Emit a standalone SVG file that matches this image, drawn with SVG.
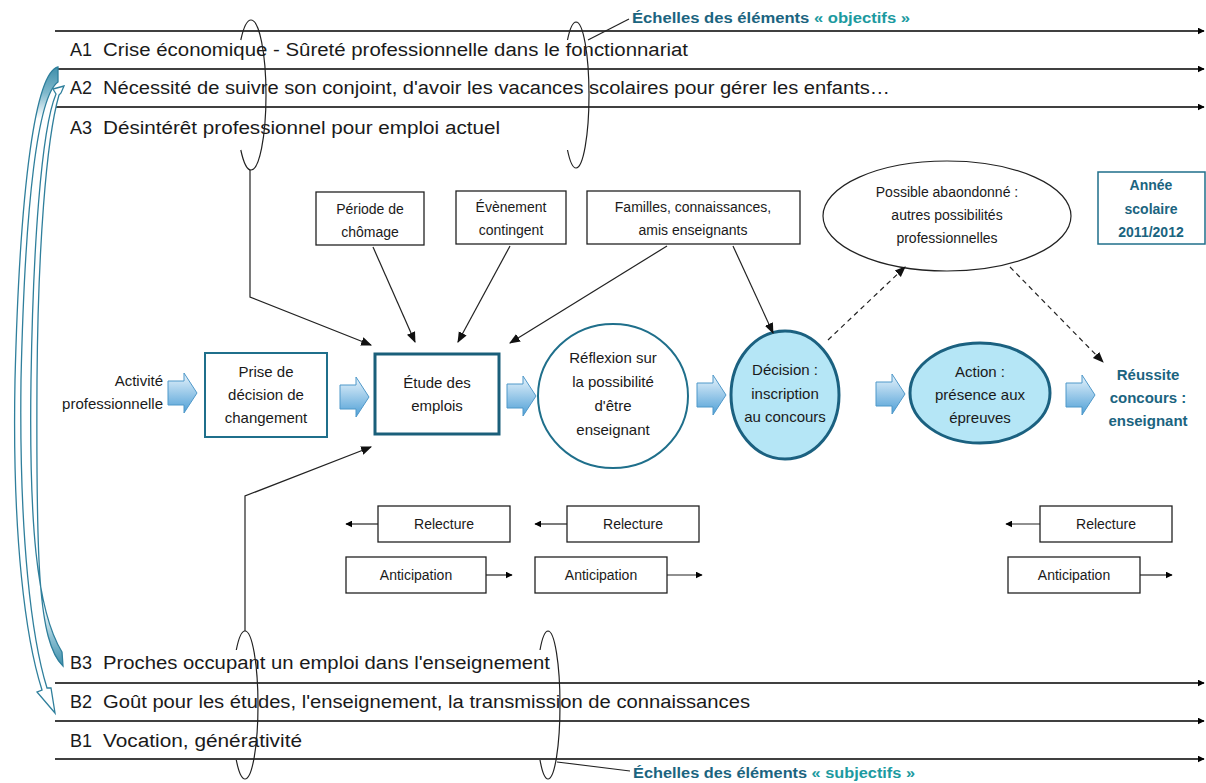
<svg xmlns="http://www.w3.org/2000/svg" width="1206" height="783" viewBox="0 0 1206 783">
<defs>
<style>
text{font-family:"Liberation Sans",Arial,sans-serif;fill:#1a1a1a}
.lv{font-size:18px}
.n{font-size:15px;text-anchor:middle}
.s{font-size:14px;text-anchor:middle}
.tb{font-weight:bold;fill:#1b6480}
.tl{font-weight:bold;fill:#1c9aa0}
.ax{stroke:#000;stroke-width:1.3;fill:none}
.ln{stroke:#222;stroke-width:1.2;fill:none}
.bx{fill:#fff;stroke:#222;stroke-width:1.3}
.tbx{fill:#fff;stroke:#1f6f8b;stroke-width:2}
.cy{fill:#b5e6f6;stroke:#1b6180;stroke-width:3}
.ba{fill:url(#bg);stroke:#4f98c9;stroke-width:1}
.dash{stroke:#222;stroke-width:1.2;fill:none;stroke-dasharray:5 4}
</style>
<linearGradient id="bg" x1="0" y1="0" x2="0" y2="1">
<stop offset="0" stop-color="#e8f4fc"/><stop offset="1" stop-color="#4e9fd6"/>
</linearGradient>
<linearGradient id="c1" x1="0" y1="0" x2="0" y2="1">
<stop offset="0" stop-color="#3f8fab"/><stop offset="0.04" stop-color="#7fb8cc"/><stop offset="0.08" stop-color="#ffffff"/><stop offset="1" stop-color="#ffffff"/>
</linearGradient>
<linearGradient id="c2" x1="0" y1="0" x2="0" y2="1">
<stop offset="0" stop-color="#ffffff"/><stop offset="0.9" stop-color="#ffffff"/><stop offset="0.95" stop-color="#8fc2d4"/><stop offset="1" stop-color="#3f8fab"/>
</linearGradient>
<marker id="ah" viewBox="0 0 10 10" refX="9" refY="5" markerWidth="7" markerHeight="7" orient="auto" markerUnits="userSpaceOnUse">
<path d="M0,0 L10,5 L0,10 Z" fill="#000"/>
</marker>
<marker id="am" viewBox="0 0 10 10" refX="9" refY="5" markerWidth="11" markerHeight="11" orient="auto" markerUnits="userSpaceOnUse">
<path d="M0,1 L10,5 L0,9 Z" fill="#111"/>
</marker>
<path id="blk" d="M0,-12 H16 V-20 L29,0 L16,20 V12 H0 Z"/>
</defs>

<g id="scales">
<line class="ax" x1="55" y1="31" x2="1204" y2="31" marker-end="url(#ah)"/>
<line class="ax" x1="55" y1="69" x2="1204" y2="69" marker-end="url(#ah)"/>
<line class="ax" x1="55" y1="107" x2="1204" y2="107" marker-end="url(#ah)"/>
<line class="ax" x1="55" y1="683" x2="1204" y2="683" marker-end="url(#ah)"/>
<line class="ax" x1="55" y1="721" x2="1204" y2="721" marker-end="url(#ah)"/>
<line class="ax" x1="55" y1="759" x2="1204" y2="759" marker-end="url(#ah)"/>
<text class="lv" x="70" y="56">A1</text>
<text class="lv" x="103" y="56" textLength="585" lengthAdjust="spacingAndGlyphs">Crise économique - Sûreté professionnelle dans le fonctionnariat</text>
<text class="lv" x="70" y="94">A2</text>
<text class="lv" x="103" y="94" textLength="787" lengthAdjust="spacingAndGlyphs">Nécessité de suivre son conjoint, d'avoir les vacances scolaires pour gérer les enfants…</text>
<text class="lv" x="70" y="134">A3</text>
<text class="lv" x="103" y="134" textLength="397" lengthAdjust="spacingAndGlyphs">Désintérêt professionnel pour emploi actuel</text>
<text class="lv" x="70" y="669">B3</text>
<text class="lv" x="103" y="669" textLength="447" lengthAdjust="spacingAndGlyphs">Proches occupant un emploi dans l'enseignement</text>
<text class="lv" x="70" y="708">B2</text>
<text class="lv" x="103" y="708" textLength="647" lengthAdjust="spacingAndGlyphs">Goût pour les études, l'enseignement, la transmission de connaissances</text>
<text class="lv" x="70" y="747">B1</text>
<text class="lv" x="103" y="747" textLength="199" lengthAdjust="spacingAndGlyphs">Vocation, générativité</text>
<text x="632" y="23" style="font-size:14.5px" textLength="278" lengthAdjust="spacingAndGlyphs"><tspan class="tb">Échelles des éléments </tspan><tspan class="tl">« objectifs »</tspan></text>
<text x="633" y="778" style="font-size:14.5px" textLength="282" lengthAdjust="spacingAndGlyphs"><tspan class="tb">Échelles des éléments </tspan><tspan class="tl">« subjectifs »</tspan></text>
</g>

<g id="brackets">
<path class="ln" d="M251,20 A15,75 0 0 1 251,170 M251,20 A15,75 0 0 0 240.8,40 M240.8,150 A15,75 0 0 0 251,170"/>
<path class="ln" d="M576,22 A13,73 0 0 1 576,168 M576,22 A13,73 0 0 0 567.5,40 M567.5,150 A13,73 0 0 0 576,168"/>
<path class="ln" d="M245,631 A13,74 0 0 1 245,779 M245,631 A13,74 0 0 0 236.3,650 M236.3,760 A13,74 0 0 0 245,779"/>
<path class="ln" d="M548,631 A12,74 0 0 1 548,779 M548,631 A12,74 0 0 0 540,650 M540,760 A12,74 0 0 0 548,779"/>
</g>

<g id="curved-arrows">
<path d="M58,67 C36,72 20,180 15,380 C12,540 26,640 42,690 L37,692 L55,713 L51,688 L47,688 C32,640 19,540 21,380 C25,200 38,96 58,82 Z" fill="url(#c1)" stroke="#2f7f9c" stroke-width="1.3"/>
<path d="M64,86 L53,89 L56,94 C41,130 33,250 31,380 C29,520 36,610 62,652 L63,666 C38,642 36,560 37,380 C38,250 46,140 59,95 L61,93 Z" fill="url(#c2)" stroke="#2f7f9c" stroke-width="1.3"/>
</g>

<g id="activite">
<text class="n" style="text-anchor:end" x="163" y="386">Activité</text>
<text class="n" style="text-anchor:end" x="163" y="409">professionnelle</text>
</g>
<g id="prise">
<rect class="tbx" x="205" y="353" width="122" height="84"/>
<text class="n" x="266" y="377">Prise de</text>
<text class="n" x="266" y="400">décision de</text>
<text class="n" x="266" y="423">changement</text>
</g>
<g id="etude">
<rect x="375" y="354" width="124" height="80" fill="#fff" stroke="#1a5f7a" stroke-width="3"/>
<text class="n" x="437" y="388">Étude des</text>
<text class="n" x="437" y="411">emplois</text>
</g>
<g id="reflexion">
<ellipse class="tbx" cx="613" cy="396" rx="75" ry="72"/>
<text class="n" x="613" y="363">Réflexion sur</text>
<text class="n" x="613" y="387">la possibilité</text>
<text class="n" x="613" y="411">d'être</text>
<text class="n" x="613" y="435">enseignant</text>
</g>
<g id="decision">
<ellipse class="cy" cx="785" cy="395" rx="54" ry="64"/>
<text class="n" x="785" y="375">Décision :</text>
<text class="n" x="785" y="399">inscription</text>
<text class="n" x="785" y="422">au concours</text>
</g>
<g id="action">
<ellipse class="cy" cx="980" cy="393" rx="70" ry="50"/>
<text class="n" x="980" y="377">Action :</text>
<text class="n" x="980" y="400">présence aux</text>
<text class="n" x="980" y="423">épreuves</text>
</g>
<g id="reussite">
<text class="n tb" x="1148" y="380">Réussite</text>
<text class="n tb" x="1148" y="403">concours :</text>
<text class="n tb" x="1148" y="426">enseignant</text>
</g>
<g id="periode">
<rect class="bx" x="316" y="192" width="108" height="53"/>
<text class="s" x="370" y="214">Période de</text>
<text class="s" x="370" y="237">chômage</text>
</g>
<g id="evenement">
<rect class="bx" x="456" y="191" width="110" height="53"/>
<text class="s" x="511" y="212">Évènement</text>
<text class="s" x="511" y="235">contingent</text>
</g>
<g id="familles">
<rect class="bx" x="587" y="191" width="213" height="53"/>
<text class="s" x="693" y="212">Familles, connaissances,</text>
<text class="s" x="693" y="235">amis enseignants</text>
</g>
<g id="possible">
<ellipse class="ln" cx="947" cy="216" rx="124" ry="55" fill="#fff"/>
<text class="s" x="947" y="197">Possible abaondonné :</text>
<text class="s" x="947" y="220">autres possibilités</text>
<text class="s" x="947" y="243">professionnelles</text>
</g>
<g id="annee">
<rect x="1098" y="172" width="107" height="72" fill="#fff" stroke="#1f6f8b" stroke-width="1.5"/>
<text class="s tb" x="1151" y="190">Année</text>
<text class="s tb" x="1151" y="214">scolaire</text>
<text class="s tb" x="1151" y="237">2011/2012</text>
</g>
<g id="relecture1">
<rect class="bx" x="378" y="506" width="132" height="36"/>
<text class="s" x="444" y="529">Relecture</text>
</g>
<g id="relecture2">
<rect class="bx" x="567" y="506" width="132" height="36"/>
<text class="s" x="633" y="529">Relecture</text>
</g>
<g id="relecture3">
<rect class="bx" x="1040" y="506" width="132" height="36"/>
<text class="s" x="1106" y="529">Relecture</text>
</g>
<g id="anticipation1">
<rect class="bx" x="346" y="557" width="140" height="36"/>
<text class="s" x="416" y="580">Anticipation</text>
</g>
<g id="anticipation2">
<rect class="bx" x="535" y="557" width="132" height="36"/>
<text class="s" x="601" y="580">Anticipation</text>
</g>
<g id="anticipation3">
<rect class="bx" x="1008" y="557" width="132" height="36"/>
<text class="s" x="1074" y="580">Anticipation</text>
</g>

<g id="connectors">
<path class="ln" d="M250,170 V297 L371,345" marker-end="url(#am)"/>
<path class="ln" d="M245,631 V496 L371,447" marker-end="url(#am)"/>
<line class="ln" x1="373" y1="247" x2="415" y2="342" marker-end="url(#am)"/>
<line class="ln" x1="510" y1="246" x2="458" y2="342" marker-end="url(#am)"/>
<line class="ln" x1="667" y1="246" x2="510" y2="343" marker-end="url(#am)"/>
<line class="ln" x1="733" y1="246" x2="773" y2="333" marker-end="url(#am)"/>
<line class="dash" x1="828" y1="340" x2="905" y2="267" marker-end="url(#am)"/>
<line class="dash" x1="1010" y1="267" x2="1103" y2="362" marker-end="url(#am)"/>
<line class="ln" x1="588" y1="40" x2="629" y2="19"/>
<line class="ln" x1="557" y1="762" x2="630" y2="771"/>
<line class="ln" x1="378" y1="524" x2="346" y2="524" marker-end="url(#ah)"/>
<line class="ln" x1="567" y1="524" x2="535" y2="524" marker-end="url(#ah)"/>
<line class="ln" x1="1040" y1="524" x2="1006" y2="524" marker-end="url(#ah)"/>
<line class="ln" x1="486" y1="575" x2="512" y2="575" marker-end="url(#ah)"/>
<line class="ln" x1="667" y1="575" x2="702" y2="575" marker-end="url(#ah)"/>
<line class="ln" x1="1140" y1="575" x2="1172" y2="575" marker-end="url(#ah)"/>
<use href="#blk" class="ba" x="168" y="393"/>
<use href="#blk" class="ba" x="340" y="397"/>
<use href="#blk" class="ba" x="507" y="396"/>
<use href="#blk" class="ba" x="697" y="395"/>
<use href="#blk" class="ba" x="876" y="394"/>
<use href="#blk" class="ba" x="1066" y="395"/>
</g>
</svg>
